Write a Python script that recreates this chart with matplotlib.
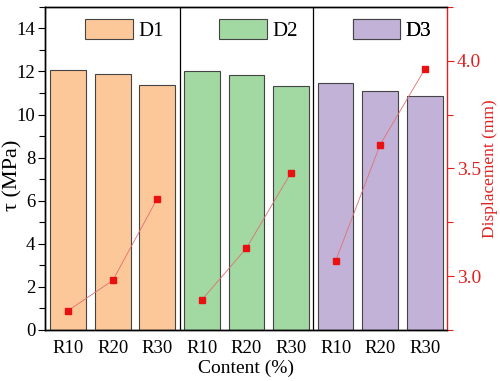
import matplotlib
matplotlib.use("Agg")
import matplotlib.pyplot as plt
from matplotlib.patches import Patch
from matplotlib.ticker import MultipleLocator

plt.rcParams['font.family'] = ['Liberation Serif', 'DejaVu Serif']
plt.rcParams['mathtext.fontset'] = 'stix'

groups = ["D1", "D2", "D3"]
contents = ["R10", "R20", "R30"]
tau = {
    "D1": [12.05, 11.88, 11.37],
    "D2": [12.03, 11.83, 11.31],
    "D3": [11.45, 11.11, 10.87],
}
disp = {
    "D1": [2.84, 2.98, 3.36],
    "D2": [2.89, 3.13, 3.48],
    "D3": [3.07, 3.61, 3.96],
}
colors = {"D1": "#FCC89A", "D2": "#A2D8A2", "D3": "#C2B2D8"}

fig = plt.figure(figsize=(5.0, 3.81), dpi=100)
ax = fig.add_axes([0.09, 0.134, 0.804, 0.848])
ax2 = ax.twinx()

legend_x = [0.38, 3.38, 6.38]
for gi, g in enumerate(groups):
    xs = [gi * 3 + i for i in range(3)]
    ax.bar(xs, tau[g], width=0.8, color=colors[g], edgecolor="#444444", linewidth=0.8)
    ax2.plot(xs, disp[g], color="#E07070", linewidth=0.6, marker="s",
             markersize=5, markerfacecolor="#E81010", markeredgecolor="#E81010")
    leg = ax.legend(handles=[Patch(facecolor=colors[g], edgecolor="#444444", linewidth=0.8, label=g)],
                    loc="upper left", bbox_to_anchor=(legend_x[gi], 14.45),
                    bbox_transform=ax.transData, frameon=False, fontsize=15,
                    handlelength=2.3, handleheight=1.15, handletextpad=0.25,
                    borderpad=0, borderaxespad=0)
    ax.add_artist(leg)

for xv in [2.5, 5.5]:
    ax.axvline(xv, color="black", linewidth=0.9)

ax.set_xlim(-0.52, 8.5)
ax.set_ylim(0, 15)
ax.set_xticks(range(9))
ax.set_xticklabels(contents * 3, fontsize=13.5)
ax.tick_params(axis="x", length=0, pad=7)
ax.yaxis.set_major_locator(MultipleLocator(2))
ax.yaxis.set_minor_locator(MultipleLocator(1))
ax.tick_params(axis="y", which="major", direction="out", length=5, labelsize=13.5, width=0.8, pad=2)
ax.tick_params(axis="y", which="minor", direction="out", length=4, width=0.8)
ax.set_xlabel("Content (%)", fontsize=14, labelpad=2)
ax.set_ylabel("τ (MPa)", fontsize=16)
ax.yaxis.set_label_coords(-0.055, 0.48)

ax2.set_ylim(2.75, 4.25)
ax2.yaxis.set_major_locator(MultipleLocator(0.5))
ax2.yaxis.set_minor_locator(MultipleLocator(0.25))
ax2.tick_params(axis="y", which="major", direction="out", length=5, labelsize=14,
                colors="#E02020", width=0.8, pad=2)
ax2.tick_params(axis="y", which="minor", direction="out", length=4, colors="#E02020", width=0.8)
ax2.set_yticks([3.0, 3.5, 4.0])
ax2.set_yticklabels(["3.0", "3.5", "4.0"])
ax2.set_ylabel("Displacement (mm)", fontsize=12.5, color="#E02020", labelpad=1)
ax2.spines["right"].set_color("#E02020")
ax2.spines["right"].set_linewidth(1.0)
for sp in ["left", "top", "bottom"]:
    ax.spines[sp].set_linewidth(1.0)
    ax2.spines[sp].set_linewidth(1.0)
ax.spines["right"].set_visible(False)

fig.savefig("out.png", dpi=100)
